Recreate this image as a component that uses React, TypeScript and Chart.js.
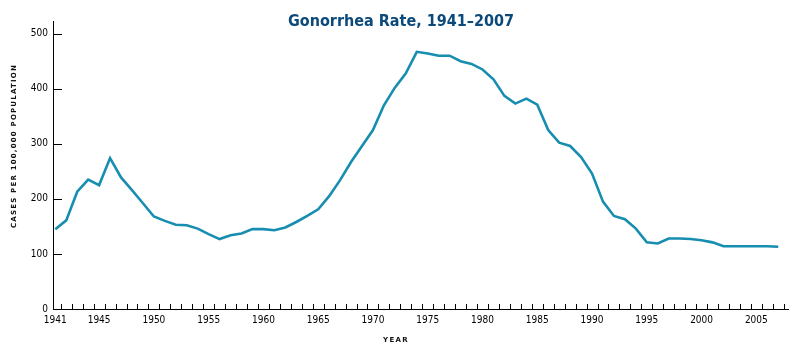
import React, { useEffect, useRef } from "react";
import { Chart, registerables } from "chart.js";

Chart.register(...registerables);

const years: number[] = [];
for (let y = 1941; y <= 2007; y++) years.push(y);

const rates: number[] = [
  145, 161, 213, 235, 225, 274, 239, 216, 192, 168,
  160, 153, 152, 146, 136, 127, 134, 137, 145, 145,
  143, 148, 158, 169, 181, 205, 234, 267, 296, 325,
  370, 402, 428, 467, 464, 460, 460, 450, 445, 435,
  417, 387, 373, 382, 371, 325, 302, 296, 276, 246,
  195, 169, 163, 146, 121, 119, 128, 128, 127, 125,
  121, 114, 114, 114, 114, 114, 113,
];

const xLabelYears: number[] = [1941, 1945, 1950, 1955, 1960, 1965, 1970, 1975, 1980, 1985, 1990, 1995, 2000, 2005];
const yTickValues: number[] = [0, 100, 200, 300, 400, 500];

const titleText = "Gonorrhea Rate, 1941\u20132007";
const yTitleText = "CASES PER 100,000 POPULATION";
const xTitleText = "YEAR";

const decorPlugin = {
  id: "decor",
  afterDraw(chart: any) {
    const ctx = chart.ctx;
    const xs = chart.scales.x;
    const ys = chart.scales.y;
    const area = chart.chartArea;
    ctx.save();
    // inside tick marks
    ctx.strokeStyle = "#000";
    ctx.lineWidth = 1;
    ctx.beginPath();
    for (let y = 1941; y <= 2007; y++) {
      const px = Math.round(xs.getPixelForValue(y + 0.5)) + 0.5;
      if (px > area.right) continue;
      ctx.moveTo(px, area.bottom);
      ctx.lineTo(px, area.bottom - 5);
    }
    for (const v of yTickValues) {
      const py = Math.round(ys.getPixelForValue(v)) + 0.5;
      ctx.moveTo(area.left, py);
      ctx.lineTo(area.left + 9, py);
    }
    ctx.stroke();

    // title
    ctx.fillStyle = "#0d4a7c";
    ctx.font = "bold 16px 'DejaVu Sans Condensed', 'DejaVu Sans', sans-serif";
    ctx.textAlign = "center";
    ctx.textBaseline = "middle";
    ctx.fillText(titleText, 401, 22);

    // axis titles
    ctx.fillStyle = "#111";
    ctx.font = "bold 7px 'DejaVu Sans', sans-serif";
    (ctx as any).letterSpacing = "1.2px";
    ctx.save();
    ctx.translate(14, 146);
    ctx.rotate(-Math.PI / 2);
    ctx.fillText(yTitleText, 0, 0);
    ctx.restore();
    (ctx as any).letterSpacing = "1.3px";
    ctx.fillText(xTitleText, 396, 340);
    (ctx as any).letterSpacing = "0px";
    ctx.restore();
  },
};

export default function App() {
  const canvasRef = useRef<HTMLCanvasElement>(null);

  useEffect(() => {
    document.body.style.margin = "0";
    const canvas = canvasRef.current;
    if (!canvas) return;
    const chart = new Chart(canvas, {
      type: "line",
      data: {
        datasets: [
          {
            data: years.map((y, i) => ({ x: y, y: rates[i] })),
            borderColor: "#178db0",
            borderWidth: 2.6,
            pointRadius: 0,
            tension: 0,
            fill: false,
          },
        ],
      },
      options: {
        responsive: false,
        animation: false,
        devicePixelRatio: 1,
        layout: { padding: { top: 21, right: 12, left: 0, bottom: 0 } },
        plugins: {
          legend: { display: false },
          title: { display: false },
          tooltip: { enabled: false },
        },
        scales: {
          x: {
            type: "linear",
            min: 1940.79,
            max: 2007.89,
            afterFit: (s: any) => {
              s.height = 47;
            },
            afterBuildTicks: (s: any) => {
              s.ticks = xLabelYears.map((v) => ({ value: v }));
            },
            grid: { display: true, drawOnChartArea: false, drawTicks: false },
            border: { display: true, color: "#000", width: 1 },
            ticks: {
              autoSkip: false,
              maxRotation: 0,
              padding: 5,
              color: "#000",
              font: { family: "'DejaVu Sans Condensed', 'DejaVu Sans', sans-serif", size: 10 },
              callback: (v: any) => String(v),
            },
          },
          y: {
            type: "linear",
            min: 0,
            max: 523,
            afterFit: (s: any) => {
              s.width = 53;
            },
            afterBuildTicks: (s: any) => {
              s.ticks = yTickValues.map((v) => ({ value: v }));
            },
            grid: { display: true, drawOnChartArea: false, drawTicks: false },
            border: { display: true, color: "#000", width: 1 },
            ticks: {
              padding: 5,
              color: "#000",
              font: { family: "'DejaVu Sans Condensed', 'DejaVu Sans', sans-serif", size: 10 },
              callback: (v: any) => String(v),
            },
          },
        },
      },
      plugins: [decorPlugin],
    });
    return () => chart.destroy();
  }, []);

  return (
    <div style={{ width: 800, height: 356, background: "#fff" }}>
      <canvas ref={canvasRef} width={800} height={356} style={{ display: "block" }} />
    </div>
  );
}
